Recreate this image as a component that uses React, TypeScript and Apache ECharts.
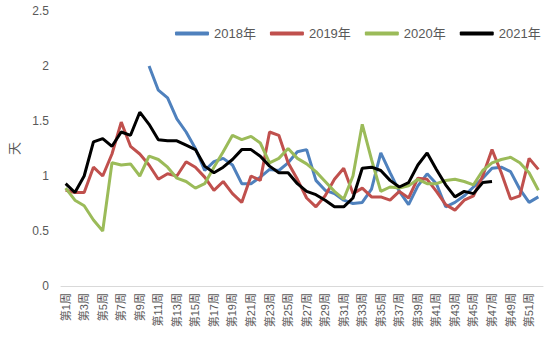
import React, { useEffect, useRef } from "react";
import * as echarts from "echarts";

const weeks: string[] = Array.from({ length: 52 }, (_, i) => `第${i + 1}周`);

const seriesNames = ["2018年", "2019年", "2020年", "2021年"];

const data2018: (number | null)[] = [
  null, null, null, null, null, null, null, null, null,
  2.0, 1.78, 1.71, 1.52, 1.40, 1.25, 1.05, 1.13, 1.16, 1.10, 0.93,
  0.93, 0.99, 1.06, 1.05, 1.12, 1.22, 1.24, 0.96, 0.87, 0.84,
  0.78, 0.75, 0.76, 0.88, 1.21, 1.03, 0.86, 0.74, 0.91, 1.02,
  0.93, 0.72, 0.76, 0.82, 0.90, 0.98, 1.07, 1.08, 1.04, 0.88,
  0.76, 0.81,
];

const data2019: number[] = [
  0.87, 0.85, 0.85, 1.08, 1.0, 1.2, 1.49, 1.27, 1.2, 1.1,
  0.97, 1.02, 1.0, 1.13, 1.08, 0.99, 0.87, 0.95, 0.84, 0.76,
  1.0, 0.96, 1.40, 1.37, 1.12, 0.97, 0.80, 0.72, 0.82, 0.97,
  1.07, 0.84, 0.89, 0.81, 0.81, 0.78, 0.86, 0.80, 0.98, 0.97,
  0.86, 0.74, 0.69, 0.78, 0.82, 1.0, 1.24, 1.03, 0.79, 0.82,
  1.16, 1.06,
];

const data2020: number[] = [
  0.89, 0.78, 0.73, 0.6, 0.5, 1.12, 1.10, 1.11, 1.0, 1.18,
  1.15, 1.08, 0.98, 0.95, 0.89, 0.93, 1.08, 1.22, 1.37, 1.33,
  1.36, 1.30, 1.12, 1.16, 1.25, 1.16, 1.11, 1.04, 0.95, 0.86,
  0.79, 1.0, 1.47, 1.15, 0.86, 0.90, 0.89, 0.91, 0.97, 0.93,
  0.93, 0.96, 0.97, 0.95, 0.92, 1.05, 1.12, 1.15, 1.17, 1.12,
  1.03, 0.87,
];

const data2021: number[] = [
  0.93, 0.85, 1.0, 1.31, 1.34, 1.27, 1.40, 1.37, 1.58, 1.47,
  1.33, 1.32, 1.32, 1.28, 1.24, 1.09, 1.03, 1.08, 1.15, 1.24,
  1.24, 1.18, 1.09, 1.03, 1.03, 0.93, 0.86, 0.83, 0.78, 0.72,
  0.72, 0.80, 1.07, 1.08, 1.05, 0.96, 0.90, 0.94, 1.10, 1.21,
  1.06, 0.92, 0.81, 0.86, 0.84, 0.94, 0.95,
];

const colors = ["#4F81BD", "#C0504D", "#9BBB59", "#000000"];

export default function App() {
  const ref = useRef<HTMLDivElement>(null);
  useEffect(() => {
    if (!ref.current) return;
    const chart = echarts.init(ref.current, null, { renderer: "svg" });
    const font = "'Liberation Sans', 'Noto Sans CJK SC', sans-serif";
    const all = [data2018, data2019, data2020, data2021];
    chart.setOption({
      animation: false,
      textStyle: { fontFamily: font },
      color: colors,
      legend: {
        left: 170,
        top: 22,
        itemWidth: 34,
        itemHeight: 4,
        itemGap: 14,
        icon: "roundRect",
        textStyle: { color: "#595959", fontSize: 13, fontFamily: font },
        data: seriesNames,
      },
      grid: { left: 56, right: 7, top: 11, bottom: 68 },
      xAxis: {
        type: "category",
        data: weeks,
        boundaryGap: true,
        axisLine: { lineStyle: { color: "#D9D9D9" } },
        axisTick: { show: false },
        axisLabel: {
          rotate: 90,
          interval: 1,
          color: "#595959",
          fontSize: 11,
          margin: 7,
          fontFamily: font,
        },
      },
      yAxis: {
        type: "value",
        min: 0,
        max: 2.5,
        interval: 0.5,
        name: "天",
        nameLocation: "middle",
        nameRotate: 90,
        nameGap: 40,
        nameTextStyle: { color: "#595959", fontSize: 13 },
        axisLine: { show: false },
        axisTick: { show: false },
        splitLine: { show: false },
        axisLabel: { color: "#595959", fontSize: 12, margin: 12, fontFamily: font },
      },
      series: seriesNames.map((n, i) => ({
        name: n,
        type: "line",
        data: all[i],
        symbol: "none",
        connectNulls: false,
        lineStyle: { width: 3, color: colors[i] },
        itemStyle: { color: colors[i] },
      })),
    });
    return () => chart.dispose();
  }, []);
  return (
    <div
      ref={ref}
      style={{ position: "absolute", left: 0, top: 0, width: 550, height: 354 }}
    />
  );
}
